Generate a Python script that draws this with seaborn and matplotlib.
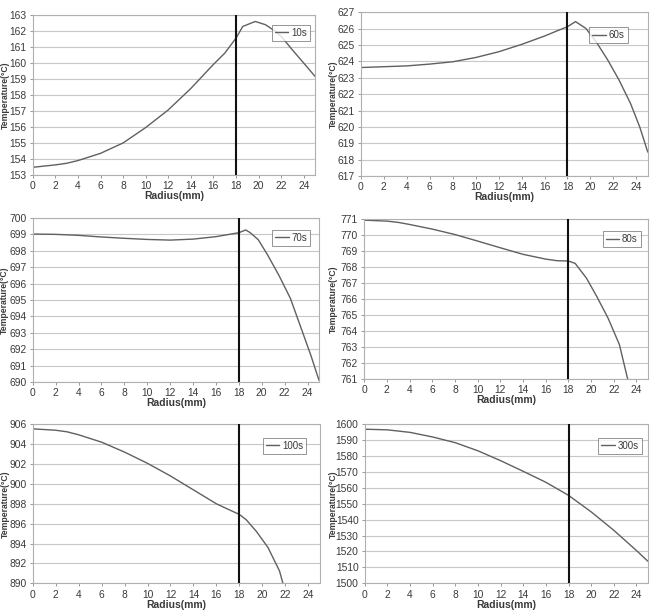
"""
Radial temperature profiles at several times (six Excel-style panels).
"""
import numpy as np
import pandas as pd
import matplotlib
matplotlib.use("Agg")
import matplotlib.pyplot as plt
import seaborn as sns

# --- data ---
r_10 = [0, 2, 3, 4, 6, 8, 10, 12, 14, 16, 17, 18, 18.6, 19.7, 20.6, 21.5, 22, 23, 24, 25]
t_10 = [153.48, 153.63, 153.73, 153.9, 154.35, 155.0, 155.96, 157.06, 158.4, 159.9, 160.6,
        161.54, 162.27, 162.58, 162.38, 161.96, 161.65, 160.8, 159.98, 159.15]

r_60 = [0, 4, 6, 8, 10, 12, 14, 16, 17, 18, 18.7, 19.6, 20.5, 21.5, 22.5, 23.5, 24.3, 25]
t_60 = [623.63, 623.73, 623.84, 623.98, 624.24, 624.59, 625.04, 625.55, 625.84, 626.12,
        626.43, 626.02, 625.2, 624.1, 622.86, 621.43, 620.0, 618.47]

r_70 = [0, 2, 4, 6, 8, 10, 12, 14, 16, 17, 18, 18.6, 19, 19.7, 20.5, 21.5, 22.5, 23.5, 24.3, 25]
t_70 = [699.02, 699.0, 698.94, 698.84, 698.76, 698.69, 698.65, 698.71, 698.86, 698.98,
        699.1, 699.27, 699.1, 698.67, 697.76, 696.5, 695.1, 693.16, 691.6, 690.1]

r_80 = [0, 2, 3, 4, 6, 8, 10, 12, 14, 16, 17, 18, 18.6, 19.6, 20.5, 21.5, 22.5, 23.2, 24]
t_80 = [770.94, 770.88, 770.8, 770.67, 770.38, 770.04, 769.63, 769.21, 768.8, 768.5,
        768.4, 768.38, 768.23, 767.3, 766.16, 764.8, 763.14, 761.06, 759.4]

r_100 = [0, 2, 3, 4, 6, 8, 10, 12, 14, 16, 17, 18, 18.6, 19.5, 20.5, 21.5, 21.8, 22.5]
t_100 = [905.54, 905.4, 905.24, 904.94, 904.2, 903.2, 902.07, 900.8, 899.4, 898.0,
         897.46, 896.93, 896.4, 895.2, 893.6, 891.25, 890.0, 887.5]

r_300 = [0, 2, 4, 6, 8, 10, 12, 14, 16, 18, 20, 22, 24, 25]
t_300 = [1596.9, 1596.5, 1594.9, 1592.0, 1588.4, 1583.3, 1577.1, 1570.4, 1563.5,
         1555.3, 1544.9, 1533.3, 1520.6, 1513.9]

labels = ["10s", "60s", "70s", "80s", "100s", "300s"]
y_ranges = [(153, 163, 1), (617, 627, 1), (690, 700, 1),
            (761, 771, 1), (890, 906, 2), (1500, 1600, 10)]
x_ticks = list(range(0, 25, 2))
interface_r = 18

series = [(r_10, t_10), (r_60, t_60), (r_70, t_70),
          (r_80, t_80), (r_100, t_100), (r_300, t_300)]

# axes boxes [left, bottom, width, height] in figure fractions
boxes = [
    [0.050, 0.715, 0.431, 0.261],
    [0.551, 0.713, 0.438, 0.267],
    [0.050, 0.378, 0.437, 0.267],
    [0.556, 0.383, 0.433, 0.260],
    [0.050, 0.050, 0.438, 0.259],
    [0.557, 0.050, 0.432, 0.259],
]
legend_anchor = [(0.982, 0.937), (0.930, 0.909), (0.969, 0.927),
                 (0.975, 0.925), (0.953, 0.914), (0.979, 0.915)]
# right edge of the rotated y label, in axes fraction
ylabel_x = [-0.080, -0.080, -0.082, -0.092, -0.078, -0.096]

sns.set_theme(style="white")
plt.rcParams["font.family"] = ["Liberation Sans", "DejaVu Sans"]
txt = "#3a3a3a"

fig = plt.figure(figsize=(6.55, 6.14), dpi=100)

for i, ((r, t), lab) in enumerate(zip(series, labels)):
    ax = fig.add_axes(boxes[i])
    df = pd.DataFrame({"Radius": r, "Temperature": t, "Time": lab})
    sns.lineplot(data=df, x="Radius", y="Temperature", hue="Time",
                 palette=["#606060"], linewidth=1.0, ax=ax)
    ax.axvline(interface_r, color="#111111", linewidth=1.5, zorder=5)

    lo, hi, step = y_ranges[i]
    ax.set_xlim(0, 25)
    ax.set_ylim(lo, hi)
    ax.set_xticks(x_ticks)
    ax.set_yticks(np.arange(lo, hi + step / 2, step))
    ax.yaxis.grid(True, color="#c8c8c8", linewidth=0.8)
    ax.set_axisbelow(True)
    for s in ax.spines.values():
        s.set_color("#b0b0b0")
        s.set_linewidth(0.8)
    ax.tick_params(axis="both", labelsize=7.4, colors=txt, length=2.5,
                   width=0.6, direction="out", pad=2, left=True, bottom=True)
    ax.tick_params(axis="both", color="#888888")
    ax.set_xlabel("Radius(mm)", fontsize=7.5, fontweight="bold", color=txt, labelpad=0)
    ax.set_ylabel("Temperature(\u00b0C)", fontsize=6.2, fontweight="bold", color=txt)
    ax.yaxis.set_label_coords(ylabel_x[i], 0.5)

    leg = ax.legend(loc="upper right", bbox_to_anchor=legend_anchor[i], fontsize=7,
                    frameon=True, fancybox=False, handlelength=1.4, handletextpad=0.3,
                    borderpad=0.3, borderaxespad=0.0)
    leg.get_frame().set_edgecolor("#666666")
    leg.get_frame().set_linewidth(0.6)
    for tx in leg.get_texts():
        tx.set_color(txt)

fig.savefig("out.png", dpi=100)
plt.close(fig)
